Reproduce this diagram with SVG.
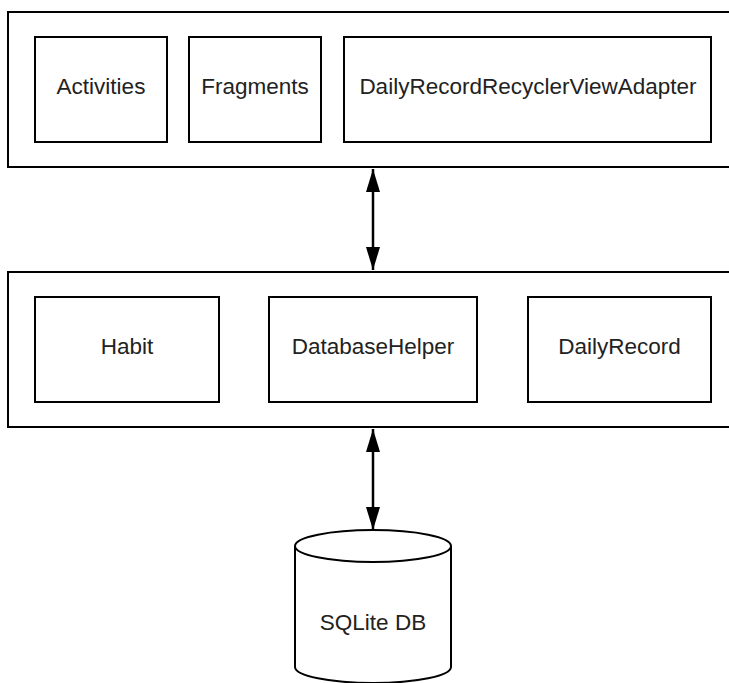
<svg xmlns="http://www.w3.org/2000/svg" width="729" height="683" viewBox="0 0 729 683">
  <defs>
    <marker id="arrow" viewBox="0 0 23 14" refX="23" refY="7" markerWidth="23" markerHeight="14" markerUnits="userSpaceOnUse" orient="auto-start-reverse">
      <path d="M0,0 L23,7 L0,14 Z" fill="#000"/>
    </marker>
  </defs>
  <style>
    .box { fill: #fff; stroke: #000; stroke-width: 2; }
    .label { font-family: "Liberation Sans", Arial, sans-serif; font-size: 22.5px; fill: #222; text-anchor: middle; }
    .link { stroke: #000; stroke-width: 2.5; fill: none; }
  </style>
  <rect width="729" height="683" fill="#fff"/>

  <!-- presentation layer -->
  <g id="ui-layer">
    <rect class="box" x="8" y="12" width="730" height="155"/>
  </g>
  <g id="activities">
    <rect class="box" x="35" y="37" width="132" height="105"/>
    <text class="label" x="101" y="94">Activities</text>
  </g>
  <g id="fragments">
    <rect class="box" x="189" y="37" width="132" height="105"/>
    <text class="label" x="255" y="94">Fragments</text>
  </g>
  <g id="adapter">
    <rect class="box" x="344" y="37" width="367" height="105"/>
    <text class="label" x="528" y="94">DailyRecordRecyclerViewAdapter</text>
  </g>

  <!-- data layer -->
  <g id="data-layer">
    <rect class="box" x="8" y="272" width="730" height="155"/>
  </g>
  <g id="habit">
    <rect class="box" x="35" y="297" width="184" height="105"/>
    <text class="label" x="127" y="354">Habit</text>
  </g>
  <g id="database-helper">
    <rect class="box" x="269" y="297" width="208" height="105"/>
    <text class="label" x="373" y="354">DatabaseHelper</text>
  </g>
  <g id="daily-record">
    <rect class="box" x="528" y="297" width="183" height="105"/>
    <text class="label" x="619.5" y="354">DailyRecord</text>
  </g>

  <!-- storage -->
  <g id="sqlite-db">
    <path class="box" d="M295,546 L295,667 A78,16 0 0 0 451,667 L451,546"/>
    <ellipse class="box" cx="373" cy="546" rx="78" ry="16"/>
    <text class="label" x="373" y="630">SQLite DB</text>
  </g>

  <!-- connectors -->
  <g id="connectors">
    <line class="link" x1="373" y1="169" x2="373" y2="270" marker-start="url(#arrow)" marker-end="url(#arrow)"/>
    <line class="link" x1="373" y1="429" x2="373" y2="530" marker-start="url(#arrow)" marker-end="url(#arrow)"/>
  </g>
</svg>
